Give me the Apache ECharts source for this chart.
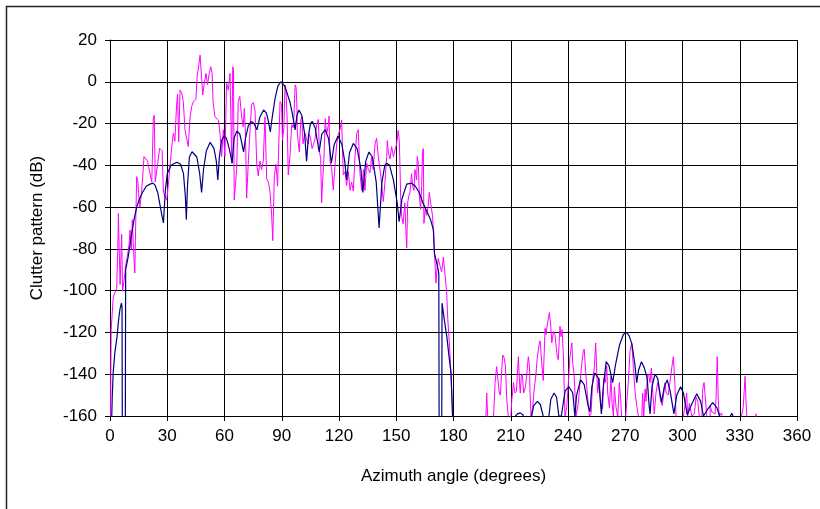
<!DOCTYPE html>
<html>
<head>
<meta charset="utf-8">
<script src="https://cdn.jsdelivr.net/npm/echarts@6/dist/echarts.min.js"></script>
<style>
  html, body { margin: 0; padding: 0; background: #fff; }
  #chart { width: 820px; height: 509px; }
</style>
</head>
<body>
<div id="chart"></div>
<script>
// Azimuth axis ticks (degrees) and level axis ticks (dB)
const azimuthTicks = [0, 30, 60, 90, 120, 150, 180, 210, 240, 270, 300, 330, 360];
const levelTicks = [-160, -140, -120, -100, -80, -60, -40, -20, 0, 20];

// Measured clutter pattern: [azimuth deg, level dB]; values below -160 fall off the scale
const measuredPattern = [
  [0,-175],[0.3,-160],[0.6,-119],[1.7,-103],[3.0,-100],[3.5,-99],[4.1,-80],[4.4,-63],[4.8,-80],[5.3,-97],
  [6.1,-73],[6.6,-100],[7.4,-95],[8.2,-88],[9.0,-84],[10.0,-78],[10.5,-71],[11.2,-80],[11.7,-66],[12.3,-80],
  [13.0,-91.6],[13.4,-71],[14.0,-45.4],[14.6,-48],[15.2,-56],[15.7,-60],[16.5,-53],[17.4,-42],[17.8,-35.8],[18.8,-36],
  [19.7,-38],[20.3,-41],[21.0,-44],[21.9,-48],[22.7,-17.4],[23.2,-16],[23.7,-48],[25.0,-39],[26.0,-31.8],[27.3,-33],
  [28.0,-53],[29.7,-56.6],[30.5,-50],[31.4,-41],[32.3,-31.8],[33.2,-24.6],[34.0,-28.5],[34.9,-11],[35.4,-6],[36.0,-28.7],
  [36.7,-4],[37.5,-5],[38.4,-9.4],[39.3,-23],[40.2,-23],[41.0,-31],[42.0,-16.7],[42.8,-11.8],[43.7,-9.4],[45.0,-8.5],
  [45.7,3.2],[46.2,5.6],[47.2,12.8],[48.0,12],[48.6,-6.3],[49.3,-1.3],[50.3,4],[51.1,-1.3],[52.0,4],[52.8,7.2],
  [53.5,4],[54.0,-9.5],[55.0,-16.8],[55.9,-16],[56.8,-18.3],[57.7,-25.5],[58.5,-35.8],[59.4,-23],[60.2,-35.8],[61.1,-0.7],
  [62.0,-4],[62.9,4],[63.8,-39],[64.3,7.2],[64.7,6],[65.1,-56.6],[66.4,-41.6],[67.2,-9.5],[68.0,-7],[69.0,-16.8],
  [69.8,-21.5],[70.4,-12.8],[71.0,-25.5],[71.6,-55.7],[72.5,-38],[73.4,-23],[74.2,-11],[75.1,-10],[76.0,-14],[76.9,-39.5],
  [77.7,-45],[78.6,-38],[79.4,-42],[80.3,-38],[81.2,-16.8],[82.1,-46.5],[83.0,-48],[83.9,-53],[84.7,-63.8],[85.3,-76],
  [86.1,-45],[87.0,-39.5],[87.8,-50],[89.1,-9.5],[89.9,-10.5],[90.4,-28],[91.1,-22],[91.7,-1.5],[92.2,-4],[92.8,-16.8],
  [93.4,-44.6],[94.3,-35.8],[95.2,-20.5],[96.0,-22],[96.4,-16.8],[97.0,-1.5],[97.5,-2.5],[97.9,-10.5],[98.2,-24.6],[98.7,-29.7],
  [99.2,-33.5],[100.0,-18],[100.6,-16.8],[101.1,-29.7],[101.8,-26],[102.2,-24.6],[103.1,-28],[103.9,-29.7],[104.4,-25],[105.1,-27],
  [105.9,-32],[106.6,-30],[107.4,-27.5],[108.3,-20.5],[109.2,-18],[109.7,-33],[110.4,-36.8],[110.9,-58],[111.4,-48],[112.1,-37],
  [112.8,-17.7],[113.5,-25],[114.4,-21],[114.8,-16.4],[115.3,-38],[116.2,-42],[117.0,-51.8],[117.9,-40],[118.8,-29.7],[119.7,-25],
  [120.5,-23],[121.4,-18.3],[121.9,-35],[122.3,-44.6],[123.2,-43],[124.0,-49.6],[124.9,-43],[125.8,-52],[126.6,-48],[127.5,-52.3],
  [128.4,-36],[129.3,-24.6],[130.1,-23],[131.0,-44],[131.9,-52],[132.8,-42],[133.6,-52],[134.5,-39],[135.4,-42],[136.2,-43.6],
  [137.1,-36],[137.9,-42],[138.9,-29.7],[139.7,-27],[140.6,-35.8],[141.5,-42],[142.4,-49.6],[143.2,-57.3],[144.1,-48],[145.0,-35.8],
  [145.3,-28.2],[145.9,-34],[146.7,-37],[147.6,-31],[148.5,-35.8],[149.4,-35.8],[150.2,-29.7],[151.0,-23.3],[151.6,-28.2],[152.0,-42],
  [152.3,-55],[152.8,-64.5],[153.6,-68],[154.5,-58],[155.0,-70],[155.5,-79.5],[156.0,-58],[156.5,-55],[157.2,-53],[158.0,-44],
  [158.6,-50],[159.3,-52],[159.8,-42],[160.7,-47],[161.0,-35.8],[161.6,-39.5],[162.1,-55],[162.8,-61],[163.3,-50],[163.8,-33],
  [164.2,-32],[164.5,-67.8],[165.2,-61],[165.9,-64],[166.8,-59],[167.3,-53],[168.0,-53],[168.5,-61],[169.0,-64],[169.4,-71],
  [170.3,-86.8],[170.8,-96.4],[171.4,-89],[172.0,-84.6],[172.9,-88],[173.8,-91],[174.7,-84],[175.6,-84.5],[176.4,-100.5],[177.0,-113.6],
  [177.6,-122],[178.2,-131],[178.5,-136.6],[179.0,-136],[179.6,-160],[180,-180],
  [196.5,-180],[197.0,-160],[197.4,-149],[197.9,-160],[199.5,-165],[201.0,-160],[201.8,-144],[202.6,-136.4],[203.1,-136],[204.0,-149],
  [204.6,-150],[205.2,-139],[205.8,-130.8],[206.5,-132],[207.2,-136],[207.9,-152],[208.7,-160],[209.7,-165],[210.5,-153],[211.4,-144],
  [212.2,-149],[213.0,-148],[214.0,-131.6],[214.6,-144],[215.0,-149],[215.5,-141],[216.0,-140],[216.8,-149],[217.7,-146],[218.4,-140],
  [219.2,-131.6],[219.8,-136],[220.1,-148],[220.6,-160],[221.5,-156],[222.2,-148],[223.2,-140],[223.9,-132],[225.0,-125],[225.4,-124],
  [226.2,-134],[227.0,-143],[228.0,-118],[228.5,-121],[229.2,-116],[229.9,-112.4],[230.2,-110.5],[230.9,-116],[231.5,-125],[232.4,-119.6],
  [233.2,-121],[233.7,-126],[234.4,-132],[234.9,-133],[235.8,-117],[236.3,-122],[236.9,-118.6],[237.6,-131],[238.4,-160],[239.3,-156],
  [240.2,-144],[241.0,-132],[242.0,-125],[242.5,-135],[243.2,-140],[244.2,-160],[245.4,-154],[246.3,-144],[247.1,-136],[248.0,-129],
  [248.5,-128],[249.2,-138],[250.1,-149],[251.2,-160],[252.1,-159],[253.0,-142],[253.8,-137],[254.5,-125],[255.0,-137],[255.5,-149],
  [256.4,-142],[257.1,-155],[258.1,-156.5],[258.8,-142],[259.6,-144],[260.3,-136],[260.8,-149],[261.7,-156],[262.5,-141],[263.1,-154],
  [263.8,-160],[264.3,-146],[265.2,-156],[266.1,-160],[266.9,-144],[267.6,-152],[268.1,-160],[269.8,-165],[271.6,-144],[272.5,-129],
  [273.4,-125],[274.3,-137.7],[275.2,-149],[276.0,-155],[276.9,-160],[278.5,-165],[279.1,-149],[279.7,-160],[280.4,-147],[280.9,-153],
  [281.6,-141],[282.2,-140],[283.0,-144],[283.7,-137],[284.4,-148],[285.2,-159],[286.1,-149],[287.0,-144],[287.5,-146],[288.4,-152],
  [289.4,-155],[290.8,-144],[291.4,-149],[292.5,-150],[293.4,-144],[294.3,-137.5],[295.2,-131.6],[295.7,-131.6],[296.0,-144],[296.6,-160],
  [298.0,-168],[300.5,-160],[302.2,-149],[302.7,-160],[303.6,-154],[304.9,-160],[306.2,-159],[307.1,-151],[308.0,-153],[308.8,-160],
  [310.0,-165],[310.6,-147],[311.3,-144],[312.0,-144],[312.7,-160],[314.4,-165],[314.5,-155],[315.3,-158],[317.1,-159],[317.6,-151],
  [318.2,-131.6],[318.7,-151],[319.2,-160],[320.5,-158.5],[321.5,-165],[330.0,-165],[330.9,-160],[331.8,-156],[332.8,-141],[333.3,-153],
  [333.7,-160],[334.5,-170],[338.2,-170],[338.5,-159],[338.8,-170],[360,-180]
];

// Computed (model) clutter pattern: [azimuth deg, level dB]
const modelPattern = [
  [0.5,-175],[1.2,-150],[1.7,-139],[2.5,-130],[3.7,-122],[4.5,-114],[5.2,-109],[6.0,-106],[6.3,-108],[6.5,-180],
  [8.0,-180],[8.2,-90],[9.5,-84],[10.5,-78],[11.4,-72.5],[12.6,-66],[14,-60],[15.5,-56],[17,-53],[19,-50],
  [21,-49],[22.5,-48.5],[23.6,-49.5],[25,-53],[26,-58],[27,-63],[28,-67.6],[29,-52],[30,-44],[32,-40],
  [35,-38.5],[37,-39.5],[38.5,-44],[39.5,-55],[40,-66],[40.6,-50],[41.6,-36],[43,-33.5],[44,-33],[45.5,-36],
  [47,-44],[48,-53],[49,-42],[50.5,-33],[52.5,-29],[54.5,-32],[55.7,-38],[56.5,-47],[57.3,-36],[58.5,-28],
  [59.7,-26],[61,-27],[62.5,-32],[64,-39],[65,-27],[66.5,-23.6],[68,-25],[69,-29],[70,-33.6],[71,-27],
  [72.5,-21],[74,-19],[75.5,-20],[77,-23],[78.5,-17],[80.5,-13.5],[82,-15],[83,-19],[84,-24],[85,-17],
  [86.5,-8],[88,-2],[89.5,0],[90.5,0],[91.5,-2],[93,-6],[94.3,-9.7],[95.5,-15],[97,-23],[98,-16],
  [99,-13.5],[100.5,-16],[102,-25],[103,-38],[104,-26],[105,-20],[106,-19],[107.5,-22],[109.6,-33.6],[111,-25],
  [112.7,-23],[114.5,-27],[116,-39],[117.5,-30],[119.5,-26],[121.5,-30],[123,-38],[124,-47],[125.5,-34],[127.5,-29.5],
  [129.5,-32],[131.5,-42],[132.5,-53],[134,-38],[135.7,-33.6],[137.5,-36],[139.5,-48],[141,-70],[142.5,-48],[144,-40],
  [145,-39],[146.5,-40],[148.5,-47],[150.5,-58],[151.5,-67],[153,-56],[155.5,-49],[158,-48.5],[160,-50],[162,-53],
  [164,-58],[166,-62],[168,-66],[169.5,-71],[170,-82],[171,-86],[172,-90],[172.3,-92],[172.5,-180],[173.8,-180],
  [174,-106],[175.2,-114],[176.5,-122],[177.6,-131],[178.7,-139.5],[179.5,-160],[180,-180],
  [211.5,-180],[212.5,-160],[213.5,-159],[215,-158.5],[216.5,-159.5],[217,-165],[220.5,-165],[221,-160],[222,-155],[224,-153],
  [225.5,-154.5],[227,-160],[229.5,-165],[230,-160],[231,-152],[232.7,-149],[234,-151],[235.2,-160],[236.5,-160],[237.5,-154],
  [238.5,-148],[240.5,-146],[242.5,-149],[243.6,-160],[244.5,-150],[246.6,-142.7],[248.5,-145],[250.5,-155],[251.5,-158],[252.5,-146],
  [254,-139.3],[256,-142],[257.5,-159],[258.5,-146],[260,-134],[261.5,-136],[263.4,-144],[265,-135],[267,-126],[269,-121],
  [270.7,-120],[272,-121.5],[273.5,-125.6],[275,-135],[276,-144],[277,-138],[278.5,-134],[280,-137],[281.5,-142],[282.5,-155],
  [283,-159],[284,-146],[285.6,-140],[287,-142],[288,-148],[289,-153.5],[290.5,-146],[292,-142.7],[293.5,-148],[295.5,-159],
  [297,-150],[299,-146],[300.5,-149],[302.5,-159.5],[304.5,-155],[307.5,-149.4],[309.5,-153],[311,-160],[313,-157],[315.8,-153.6],
  [318,-156],[319.5,-160],[321,-165],[324,-162],[325.8,-158.7],[327.5,-162],[329,-170],[360,-180]
];

const chart = echarts.init(document.getElementById('chart'), null, { renderer: 'canvas' });
const font = 'Liberation Sans, Arial, sans-serif';
const ink = '#000';

chart.setOption({
  animation: false,
  backgroundColor: '#fff',
  graphic: [{
    type: 'rect',
    shape: { x: 6.5, y: 6.5, width: 840, height: 530 },
    style: { fill: 'none', stroke: '#222', lineWidth: 1.5 },
    silent: true
  }],
  grid: { left: 110, top: 40, right: 23, bottom: 93, containLabel: false },
  xAxis: {
    type: 'value',
    min: azimuthTicks[0],
    max: azimuthTicks[azimuthTicks.length - 1],
    interval: azimuthTicks[1] - azimuthTicks[0],
    name: 'Azimuth angle (degrees)',
    nameLocation: 'middle',
    nameGap: 52,
    nameTextStyle: { color: ink, fontFamily: font, fontSize: 17 },
    axisLine: { show: true, onZero: false, lineStyle: { color: ink, width: 1 } },
    axisTick: { show: true, inside: false, length: 5, lineStyle: { color: ink } },
    axisLabel: { color: ink, fontFamily: font, fontSize: 17, margin: 12 },
    splitLine: { show: true, lineStyle: { color: ink, width: 1 } }
  },
  yAxis: {
    type: 'value',
    min: levelTicks[0],
    max: levelTicks[levelTicks.length - 1],
    interval: levelTicks[1] - levelTicks[0],
    name: 'Clutter pattern (dB)',
    nameLocation: 'middle',
    nameGap: 64,
    nameRotate: 90,
    nameTextStyle: { color: ink, fontFamily: font, fontSize: 17 },
    axisLine: { show: true, onZero: false, lineStyle: { color: ink, width: 1 } },
    axisTick: { show: true, inside: false, length: 5, lineStyle: { color: ink } },
    axisLabel: { color: ink, fontFamily: font, fontSize: 17, margin: 13 },
    splitLine: { show: true, lineStyle: { color: ink, width: 1 } }
  },
  series: [
    {
      name: 'Measured',
      type: 'line',
      data: measuredPattern,
      showSymbol: false,
      clip: true,
      lineStyle: { color: '#ff00ff', width: 1 },
      z: 2
    },
    {
      name: 'Model',
      type: 'line',
      data: modelPattern,
      showSymbol: false,
      clip: true,
      lineStyle: { color: '#000080', width: 1.2 },
      z: 3
    }
  ]
});
</script>
</body>
</html>
